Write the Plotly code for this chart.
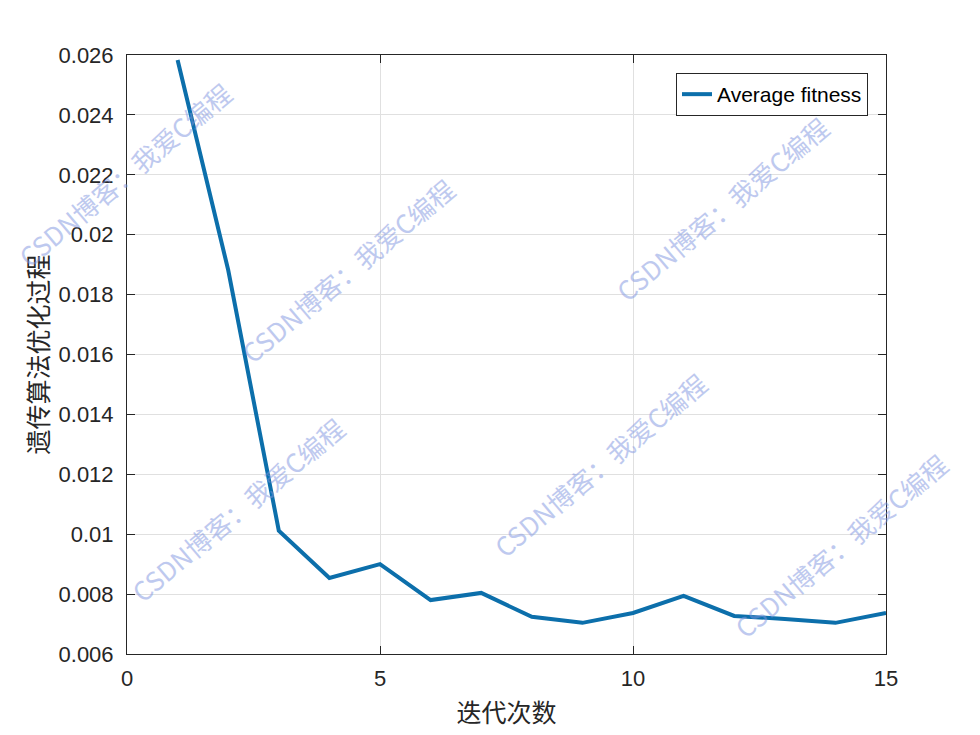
import plotly.graph_objects as go

iterations = list(range(1, 16))
avg_fitness = [0.02583, 0.01882, 0.01012, 0.00854, 0.00900, 0.00780, 0.00804,
               0.00724, 0.00704, 0.00737, 0.00794, 0.00727, 0.00717, 0.00704, 0.00737]
x_ticks = [0, 5, 10, 15]
y_ticks = [0.006, 0.008, 0.01, 0.012, 0.014, 0.016, 0.018, 0.02, 0.022, 0.024, 0.026]
y_tick_text = ["0.006", "0.008", "0.01", "0.012", "0.014", "0.016", "0.018", "0.02", "0.022", "0.024", "0.026"]
series_name = "Average fitness"
x_title = "迭代次数"
y_title = "遗传算法优化过程"
watermark = "CSDN博客：我爱C编程"
wm_pos = [(124, 174), (347, 270), (722, 209), (237, 509), (600, 465), (840, 545)]

# plot area in page pixels (reference)
PL, PR, PT, PB = 127, 886, 55, 654
OFF = 8  # default page body margin

fig = go.Figure()
fig.add_trace(go.Scatter(x=iterations, y=avg_fitness, mode="lines", name=series_name,
                         line=dict(color="#0c6fab", width=4)))

axis_common = dict(showline=True, linecolor="#262626", linewidth=1, mirror="ticks",
                   ticks="inside", ticklen=8, tickcolor="#262626",
                   showgrid=True, gridcolor="#e0e0e0", gridwidth=1, zeroline=False,
                   tickfont=dict(family="Liberation Sans, Arial", size=22, color="#262626"))

fig.update_layout(
    width=980, height=735, plot_bgcolor="white", paper_bgcolor="white",
    margin=dict(l=PL - OFF, r=980 - PR + OFF, t=PT - OFF, b=735 - PB + OFF),
    xaxis=dict(range=[0, 15], tickvals=x_ticks, ticklabelstandoff=5, **axis_common,
               title=dict(text=x_title, standoff=14,
                          font=dict(family="Noto Sans CJK SC", size=25, color="#262626"))),
    yaxis=dict(range=[0.006, 0.026], tickvals=y_ticks, ticktext=y_tick_text,
               ticklabelstandoff=8, **axis_common,
               title=dict(text=y_title, standoff=2,
                          font=dict(family="Noto Sans CJK SC", size=25, color="#262626"))),
    legend=dict(x=(868 - PL) / (PR - PL), y=(PB - 73) / (PB - PT), xanchor="right", yanchor="top",
                bgcolor="white", bordercolor="#262626", borderwidth=1,
                font=dict(family="Liberation Sans, Arial", size=21, color="#000000")),
    showlegend=True,
)

for (px, py) in wm_pos:
    fig.add_annotation(text=watermark, x=(px - PL) / (PR - PL), y=(PB - py) / (PB - PT),
                       xref="paper", yref="paper", xanchor="center", yanchor="middle",
                       showarrow=False, textangle=-40, opacity=0.5,
                       font=dict(family="Noto Sans CJK SC", size=26, color="#7f95e0"))

fig.write_html("out.html")
